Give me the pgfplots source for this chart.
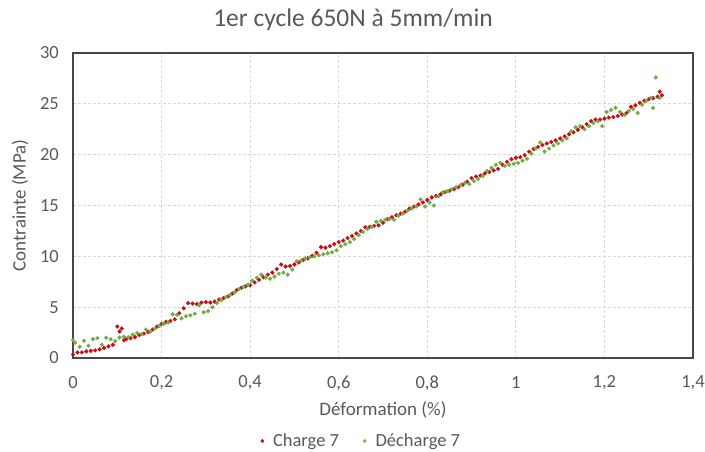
\documentclass[border=0pt]{standalone}
\usepackage{pgfplots}
\pgfplotsset{compat=1.18}
\usepackage{fontspec}
\setmainfont{Carlito}
\definecolor{txt}{RGB}{89,89,89}
\definecolor{chred}{RGB}{204,10,20}
\definecolor{dchgreen}{RGB}{112,173,71}
\begin{document}
\begin{tikzpicture}
\path[use as bounding box] (-73pt,-94pt) rectangle (632pt,358pt);
\begin{axis}[
  at={(0,0)}, anchor=south west,
  scale only axis, width=620pt, height=305pt,
  xmin=0, xmax=1.4, ymin=0, ymax=30,
  xtick={0,0.2,0.4,0.6,0.8,1,1.2,1.4},
  ytick={0,5,10,15,20,25,30},
  grid=major,
  major grid style={densely dashed, color=black!15, line width=0.8pt},
  axis line style={draw=black!72, line width=1.6pt},
  tick style={draw=none},
  /pgf/number format/.cd, use comma, assume math mode=true,
  /pgfplots/.cd,
  xticklabel style={anchor=center, yshift=-25pt, inner sep=0pt, font=\fontsize{18.5}{20}\selectfont, text=txt},
  yticklabel style={anchor=east, xshift=-14pt, inner sep=0pt, font=\fontsize{18.5}{20}\selectfont, text=txt},
  clip=false,
  legend columns=2,
  legend style={at={(axis description cs:0.465,-0.272)}, anchor=center, draw=none, fill=none,
    font=\fontsize{18.5}{20}\selectfont, text=txt,
    /tikz/every even column/.append style={column sep=22pt},
    /tikz/every odd column/.append style={column sep=0pt}},
  legend image code/.code={\fill (0.05cm,0) circle (1.6pt); \path (0.35cm,0);},
]
\addplot[only marks, mark=*, mark size=1.9pt, color=chred] coordinates {
(0.00,0.35)(0.01,0.55)(0.02,0.55)(0.03,0.65)(0.04,0.70)(0.05,0.75)(0.06,0.85)(0.07,1.00)(0.08,1.15)(0.09,1.30)
(0.10,3.10)(0.105,2.60)(0.11,2.90)(0.115,1.75)(0.12,1.85)(0.13,1.95)(0.14,2.05)(0.15,2.25)(0.16,2.40)(0.17,2.55)
(0.18,2.80)(0.19,3.10)(0.20,3.35)(0.21,3.55)(0.22,3.65)(0.23,3.80)(0.24,4.40)(0.25,4.90)(0.26,5.40)(0.27,5.35)
(0.28,5.30)(0.29,5.45)(0.30,5.50)(0.31,5.45)(0.32,5.55)(0.33,5.75)(0.34,5.90)(0.35,6.05)(0.36,6.35)(0.37,6.70)
(0.38,6.90)(0.39,7.05)(0.40,7.15)(0.41,7.45)(0.42,7.70)(0.43,7.95)(0.44,8.20)(0.45,8.40)(0.46,8.75)(0.47,9.20)
(0.48,9.00)(0.49,9.05)(0.50,9.20)(0.51,9.40)(0.52,9.65)(0.53,9.80)(0.54,10.05)(0.55,10.35)(0.56,10.90)(0.57,10.85)
(0.58,11.00)(0.59,11.20)(0.60,11.40)(0.61,11.55)(0.62,11.80)(0.63,12.00)(0.64,12.25)(0.65,12.50)(0.66,12.85)(0.67,12.90)
(0.68,13.00)(0.69,13.05)(0.70,13.30)(0.71,13.65)(0.72,13.85)(0.73,14.05)(0.74,14.20)(0.75,14.40)(0.76,14.70)(0.77,14.90)
(0.78,15.10)(0.79,15.30)(0.80,15.55)(0.81,15.80)(0.82,15.95)(0.83,16.10)(0.84,16.30)(0.85,16.45)(0.86,16.60)(0.87,16.80)
(0.88,17.05)(0.89,17.35)(0.90,17.70)(0.91,17.85)(0.92,17.95)(0.93,18.15)(0.94,18.30)(0.95,18.45)(0.96,18.60)(0.97,19.00)
(0.98,19.30)(0.99,19.55)(1.00,19.70)(1.01,19.75)(1.02,19.95)(1.03,20.30)(1.04,20.55)(1.05,20.75)(1.06,20.95)(1.07,21.10)
(1.08,21.25)(1.09,21.40)(1.10,21.60)(1.11,21.80)(1.12,22.00)(1.13,22.20)(1.14,22.45)(1.15,22.70)(1.16,23.00)(1.17,23.30)
(1.18,23.45)(1.19,23.45)(1.20,23.55)(1.21,23.65)(1.22,23.70)(1.23,23.80)(1.24,23.95)(1.25,24.10)(1.26,24.70)(1.27,24.85)
(1.28,25.10)(1.29,25.30)(1.30,25.45)(1.31,25.55)(1.32,25.70)(1.325,26.20)(1.33,25.85)
};
\addlegendentry{Charge 7}
\addplot[only marks, mark=*, mark size=1.9pt, color=dchgreen] coordinates {
(0.000,1.75)(0.005,1.50)(0.015,1.10)(0.025,1.70)(0.035,1.20)(0.045,1.85)(0.055,1.95)(0.065,1.30)(0.075,2.00)(0.085,1.85)
(0.095,1.65)(0.105,2.00)(0.115,2.10)(0.125,2.05)(0.135,2.30)(0.145,2.45)(0.155,2.35)(0.165,2.80)(0.175,2.60)(0.185,2.90)
(0.195,3.15)(0.205,3.35)(0.215,3.50)(0.225,4.30)(0.235,4.25)(0.245,3.90)(0.255,4.10)(0.265,4.20)(0.275,4.35)(0.285,5.20)
(0.295,4.50)(0.305,4.60)(0.315,5.00)(0.325,5.40)(0.335,5.70)(0.345,6.00)(0.355,6.20)(0.365,6.45)(0.375,6.80)(0.385,7.00)
(0.395,7.20)(0.405,7.60)(0.415,7.90)(0.425,8.20)(0.435,7.90)(0.445,7.80)(0.455,8.00)(0.465,8.30)(0.475,8.40)(0.485,8.20)
(0.495,8.70)(0.505,9.50)(0.515,9.60)(0.525,9.80)(0.535,9.90)(0.545,10.00)(0.555,10.10)(0.565,10.20)(0.575,10.30)(0.585,10.40)
(0.595,10.60)(0.605,11.00)(0.615,11.20)(0.625,11.40)(0.635,11.70)(0.645,12.10)(0.655,12.40)(0.665,12.70)(0.675,12.90)(0.685,13.40)
(0.695,13.50)(0.705,13.60)(0.715,13.70)(0.725,13.60)(0.735,14.00)(0.745,14.20)(0.755,14.50)(0.765,14.70)(0.775,14.90)(0.785,15.60)
(0.795,14.90)(0.805,15.30)(0.815,15.00)(0.825,15.90)(0.835,16.30)(0.845,16.40)(0.855,16.60)(0.865,16.80)(0.875,17.00)(0.885,17.20)
(0.895,17.10)(0.905,17.40)(0.915,17.60)(0.925,17.90)(0.935,18.40)(0.945,18.70)(0.955,19.00)(0.965,19.20)(0.975,18.90)(0.985,19.00)
(0.995,19.10)(1.005,19.20)(1.015,19.40)(1.025,19.60)(1.035,20.10)(1.045,20.60)(1.055,21.20)(1.065,20.30)(1.075,20.60)(1.085,20.90)
(1.095,21.10)(1.105,21.40)(1.115,21.60)(1.125,22.30)(1.135,22.70)(1.145,22.80)(1.155,22.50)(1.165,22.80)(1.175,23.10)(1.185,23.30)
(1.195,22.80)(1.205,24.20)(1.215,24.40)(1.225,24.60)(1.235,24.20)(1.245,23.90)(1.255,24.30)(1.265,24.50)(1.275,24.10)(1.285,24.90)
(1.295,25.30)(1.305,25.60)(1.310,24.60)(1.316,27.60)(1.325,25.60)
};
\addlegendentry{Décharge 7}
\node[text=txt, font=\fontsize{25.5}{28}\selectfont] at (axis description cs:0.4516,1.108) {1er cycle 650N à 5mm/min};
\node[text=txt, font=\fontsize{19}{22}\selectfont] at (axis description cs:0.5,-0.170) {Déformation (\%)};
\node[text=txt, font=\fontsize{19}{22}\selectfont, rotate=90] at (axis description cs:-0.0855,0.5) {Contrainte (MPa)};
\end{axis}
\end{tikzpicture}
\end{document}
